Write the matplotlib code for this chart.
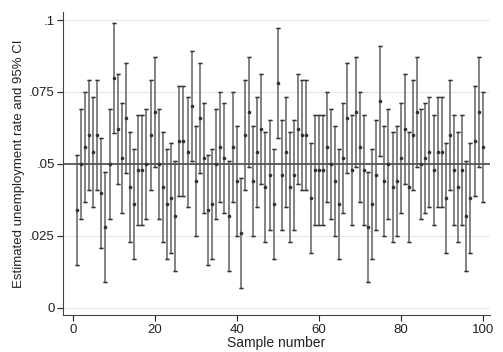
import numpy as np
import matplotlib
matplotlib.use("Agg")
import matplotlib.pyplot as plt

# estimated unemployment rate per sample
estimates = [
    .034, .050, .056, .060, .054, .060, .040, .028, .050, .080,
    .062, .052, .066, .042, .036, .048, .048, .050, .060, .068,
    .050, .042, .036, .038, .032, .058, .058, .054, .070, .044,
    .066, .052, .034, .036, .050, .056, .052, .032, .056, .044,
    .026, .060, .068, .044, .054, .062, .042, .046, .036, .078,
    .046, .054, .042, .046, .062, .060, .060, .038, .048, .048,
    .048, .056, .050, .044, .036, .052, .066, .048, .068, .056,
    .048, .028, .036, .046, .072, .044, .050, .042, .044, .052,
    .062, .042, .060, .068, .050, .052, .054, .048, .054, .054,
    .038, .060, .048, .042, .048, .032, .038, .058, .068, .056,
]
samples = np.arange(1, len(estimates) + 1)
ci_half = 0.0191
true_rate = 0.05

yticks = [0, .025, .05, .075, .1]
ytick_labels = ["0", ".025", ".05", ".075", ".1"]
xticks = [0, 20, 40, 60, 80, 100]

plt.rcParams['font.family'] = ['Liberation Sans', 'DejaVu Sans']

fig = plt.figure(figsize=(5.03, 3.52), dpi=100)
ax = fig.add_axes([0.1252, 0.1043, 0.9742 - 0.1252, 0.966 - 0.1043])

for y in yticks:
    ax.axhline(y, color='#eaeaea', lw=0.8, zorder=0)

ax.errorbar(samples, estimates, yerr=ci_half, fmt='none', ecolor='#7a7a7a',
            elinewidth=1.3, capsize=1.6, capthick=1.0, zorder=2)
# dark caps on top
ax.errorbar(samples, estimates, yerr=ci_half, fmt='none', ecolor='#333333',
            elinewidth=0, capsize=1.6, capthick=1.0, zorder=3)
ax.plot(samples, estimates, 'o', color='#333333', ms=1.6, zorder=4)
ax.axhline(true_rate, color='#555555', lw=1.3, zorder=3)

ax.set_xlim(-2.37, 101.78)
ax.set_ylim(-0.00264, 0.1028)
ax.set_yticks(yticks)
ax.set_yticklabels(ytick_labels)
ax.set_xticks(xticks)
ax.tick_params(labelsize=9.5, colors='#222222', length=4, width=0.8, pad=2)
ax.tick_params(axis='y', labelrotation=0)

for s in ['top', 'right']:
    ax.spines[s].set_visible(False)
for s in ['left', 'bottom']:
    ax.spines[s].set_color('#444444')
    ax.spines[s].set_linewidth(0.8)

ax.set_xlabel("Sample number", fontsize=10, color='#222222', labelpad=0)
ax.set_ylabel("Estimated unemployment rate and 95% CI", fontsize=9.5,
              color='#222222', labelpad=3)

fig.savefig("out.png", dpi=100)
